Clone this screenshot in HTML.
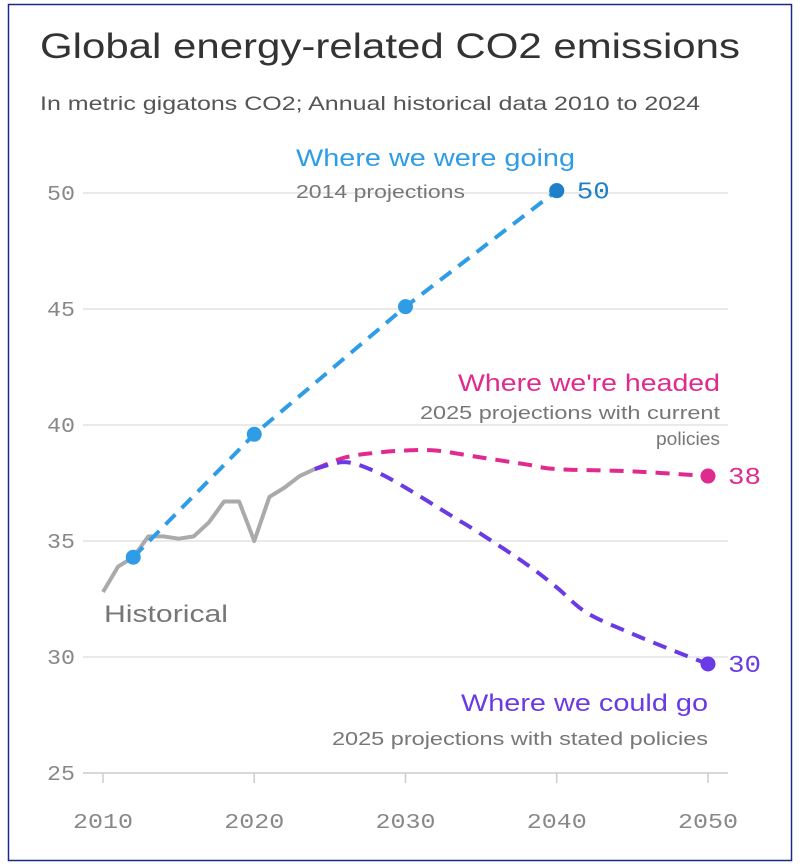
<!DOCTYPE html>
<html><head><meta charset="utf-8"><style>
body{margin:0;background:#fff;}
svg{display:block;font-family:"Liberation Sans",sans-serif;}
</style></head><body>
<svg width="800" height="867">
<rect x="8.5" y="4.5" width="783" height="856" fill="#fff" stroke="#1a2a8a" stroke-width="1.5"/>
<text x="40" y="58" font-size="35" fill="#333" textLength="700" lengthAdjust="spacingAndGlyphs">Global energy-related CO2 emissions</text>
<text x="40" y="110" font-size="19.5" fill="#555" textLength="660" lengthAdjust="spacingAndGlyphs">In metric gigatons CO2; Annual historical data 2010 to 2024</text>
<g id="grid"></g><g id="marks"></g><g id="labels">
<text x="296" y="166" font-size="24" fill="#2f9de6" textLength="279" lengthAdjust="spacingAndGlyphs">Where we were going</text>
<text x="296" y="198" font-size="18" fill="#777" textLength="169" lengthAdjust="spacingAndGlyphs">2014 projections</text>
<text x="458" y="391" font-size="24" fill="#e02a8f" textLength="262" lengthAdjust="spacingAndGlyphs">Where we're headed</text>
<text x="420" y="419" font-size="18" fill="#777" textLength="300" lengthAdjust="spacingAndGlyphs">2025 projections with current</text>
<text x="656" y="445" font-size="18" fill="#777" textLength="64" lengthAdjust="spacingAndGlyphs">policies</text>
<text x="461" y="711" font-size="24" fill="#6a3be4" textLength="247" lengthAdjust="spacingAndGlyphs">Where we could go</text>
<text x="332" y="745" font-size="18" fill="#777" textLength="376" lengthAdjust="spacingAndGlyphs">2025 projections with stated policies</text>
<text x="104" y="622" font-size="24" fill="#777" textLength="124" lengthAdjust="spacingAndGlyphs">Historical</text>
</g>
</svg>
<script>
const yTicks=[25,30,35,40,45,50];
const xTicks=[2010,2020,2030,2040,2050];
const histYears=[2010,2011,2012,2013,2014,2015,2016,2017,2018,2019,2020,2021,2022,2023,2024];
const histVals=[32.8,33.9,34.3,35.2,35.2,35.1,35.2,35.8,36.7,36.7,35.0,36.9,37.3,37.8,38.1];
const goingYears=[2012,2020,2030,2040];
const goingVals=[34.3,39.6,45.1,50.1];
const headedYears=[2024,2026,2028,2030,2032,2035,2038,2040,2045,2050];
const headedVals=[38.1,38.6,38.8,38.9,38.9,38.6,38.3,38.1,38.0,37.8];
const couldYears=[2024,2026,2028,2030,2033,2035,2038,2040,2042,2045,2048,2050];
const couldVals=[38.1,38.4,38.0,37.3,36.1,35.3,34.0,33.0,31.9,31.0,30.2,29.7];
const X=y=>103+(y-2010)*15.125, Y=v=>773-(v-25)*23.2;
const ns="http://www.w3.org/2000/svg";
const g=document.getElementById('grid'), m=document.getElementById('marks');
function mk(tag,at,par){const e=document.createElementNS(ns,tag);for(const k in at)e.setAttribute(k,at[k]);par.appendChild(e);return e;}
yTicks.forEach(t=>{
 const l=mk('line',{x1:83,x2:728,y1:Y(t),y2:Y(t),stroke:t===25?'#ccc':'#e4e4e4','stroke-width':1.5},g);
 
 
 const tx=mk('text',{x:75,y:Y(t)+7,'font-size':21,fill:'#888','text-anchor':'end','font-family':'Liberation Mono, monospace',textLength:28,lengthAdjust:'spacingAndGlyphs'},g);tx.textContent=t;
 
 
});
xTicks.forEach(t=>{
 const l=mk('line',{x1:X(t),x2:X(t),y1:773,y2:783,stroke:'#ccc','stroke-width':1.5},g);
 
 
 const tx=mk('text',{x:X(t),y:828,'font-size':21,fill:'#888','text-anchor':'middle','font-family':'Liberation Mono, monospace',textLength:60,lengthAdjust:'spacingAndGlyphs'},g);tx.textContent=t;
 
 
});
function pts(ys,vs){return ys.map((y,i)=>X(y)+','+Y(vs[i])).join(' ');}
function smooth(ys,vs){const p=ys.map((y,i)=>[X(y),Y(vs[i])]);let d='M'+p[0];for(let i=0;i<p.length-1;i++){const p0=p[i-1]||p[i],p1=p[i],p2=p[i+1],p3=p[i+2]||p2;d+=' C'+(p1[0]+(p2[0]-p0[0])/6)+','+(p1[1]+(p2[1]-p0[1])/6)+' '+(p2[0]-(p3[0]-p1[0])/6)+','+(p2[1]-(p3[1]-p1[1])/6)+' '+p2;}return d;}
let e=mk('polyline',{points:pts(histYears,histVals),fill:'none',stroke:'#aaa','stroke-width':4,'stroke-linejoin':'round'},m);


e=mk('path',{d:smooth(headedYears,headedVals),fill:'none',stroke:'#e02a8f','stroke-width':4,'stroke-dasharray':'14 9'},m);


e=mk('path',{d:smooth(couldYears,couldVals),fill:'none',stroke:'#6a3be4','stroke-width':4,'stroke-dasharray':'14 9'},m);


e=mk('polyline',{points:pts(goingYears,goingVals),fill:'none',stroke:'#2f9de6','stroke-width':4,'stroke-dasharray':'14 9'},m);


goingYears.forEach((y,i)=>{const c=mk('circle',{cx:X(y),cy:Y(goingVals[i]),r:7.5,fill:'#2f9de6'},m);
 
 });
function endPt(ys,vs,col,name){const y=ys[ys.length-1],v=vs[vs.length-1];
 const c=mk('circle',{cx:X(y),cy:Y(v),r:7.5,fill:col},m);
 
 
 const t=mk('text',{x:X(y)+20,y:Y(v)+8,'font-size':24,fill:col,'font-family':'Liberation Mono, monospace',textLength:33,lengthAdjust:'spacingAndGlyphs'},m);t.textContent=Math.round(v);
 
 }
endPt(goingYears,goingVals,'#1f7fc8','going');
endPt(headedYears,headedVals,'#e02a8f','headed');
endPt(couldYears,couldVals,'#6a3be4','could');
</script>
</body></html>
